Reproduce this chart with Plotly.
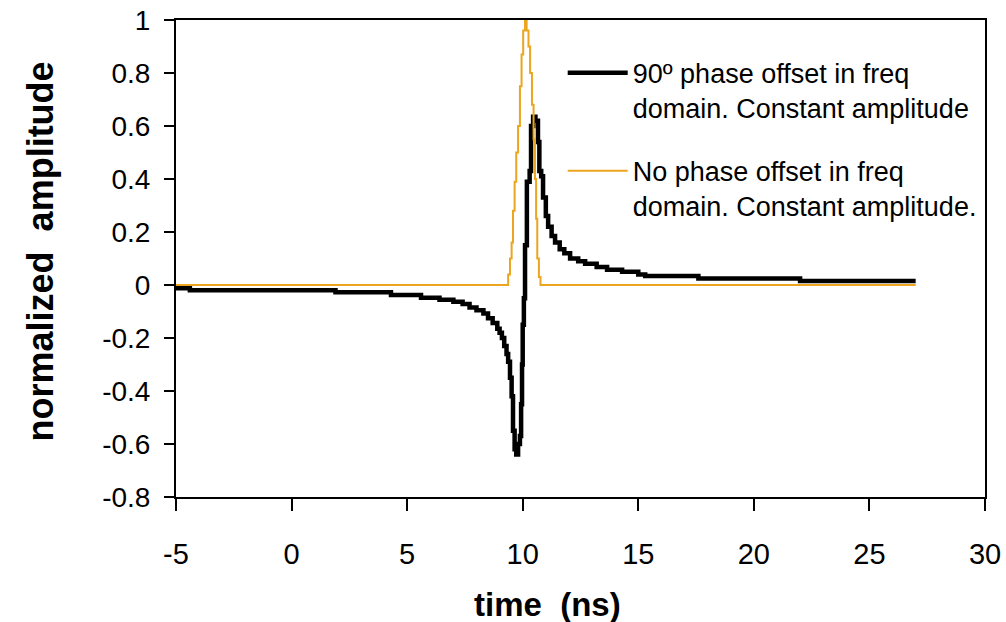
import plotly.graph_objects as go

# 90 deg phase offset series (step points)
t_phase90 = [-5.0, -4.4, 1.9, 4.3, 5.6, 6.4, 7.0, 7.4, 7.7, 8.0, 8.3, 8.5, 8.7, 8.9, 9.0,
             9.1, 9.2, 9.3, 9.37, 9.45, 9.52, 9.58, 9.65, 9.72, 9.8, 9.88, 9.93, 9.97,
             10.0, 10.05, 10.1, 10.18, 10.3, 10.36, 10.45, 10.55, 10.66, 10.72, 10.8,
             10.88, 11.0, 11.1, 11.25, 11.4, 11.6, 11.8, 12.05, 12.4, 12.7, 13.2, 13.65,
             14.3, 15.0, 15.3, 17.6, 22.0, 27.0]
a_phase90 = [-0.012, -0.02, -0.027, -0.038, -0.048, -0.056, -0.063, -0.072, -0.085, -0.095,
             -0.108, -0.125, -0.143, -0.165, -0.18, -0.2, -0.23, -0.26, -0.29, -0.35, -0.42,
             -0.55, -0.62, -0.64, -0.60, -0.57, -0.45, -0.3, -0.15, -0.05, 0.15, 0.39, 0.43,
             0.6, 0.635, 0.62, 0.54, 0.43, 0.41, 0.33, 0.26, 0.22, 0.185, 0.16, 0.135, 0.12,
             0.10, 0.09, 0.08, 0.068, 0.058, 0.05, 0.04, 0.034, 0.025, 0.015, 0.015]

# No phase offset series
t_nophase = [-5.0, 9.37, 9.45, 9.52, 9.58, 9.65, 9.72, 9.8, 9.88, 9.95, 10.02, 10.1,
             10.17, 10.25, 10.32, 10.4, 10.47, 10.53, 10.58, 10.63, 10.7, 10.77, 27.0]
a_nophase = [0.0, 0.04, 0.1, 0.16, 0.28, 0.39, 0.5, 0.6, 0.75, 0.87, 0.96, 1.0,
             0.96, 0.9, 0.8, 0.68, 0.55, 0.4, 0.25, 0.1, 0.03, 0.0, 0.0]

name_phase90 = "90º phase offset in freq<br>domain. Constant amplitude"
name_nophase = "No phase offset in freq<br>domain. Constant amplitude."

x_ticks = [-5, 0, 5, 10, 15, 20, 25, 30]
x_ticktext = ["-5", "0", "5", "10", "15", "20", "25", "30"]
y_ticks = [-0.8, -0.6, -0.4, -0.2, 0, 0.2, 0.4, 0.6, 0.8, 1]
y_ticktext = ["-0.8", "-0.6", "-0.4", "-0.2", "0", "0.2", "0.4", "0.6", "0.8", "1"]

x_title = "time\u00a0 (ns)"
y_title = "normalized\u00a0 amplitude"

FONT = "Liberation Sans, Arial, sans-serif"

fig = go.Figure()
fig.add_trace(go.Scatter(x=t_phase90, y=a_phase90, mode="lines", name=name_phase90,
                         legendgroup="a",
                         line=dict(color="#000000", width=4.5, shape="hv")))
fig.add_trace(go.Scatter(x=t_nophase, y=a_nophase, mode="lines", name=name_nophase,
                         legendgroup="b",
                         line=dict(color="#EBA51E", width=2, shape="hv")))

fig.update_layout(
    width=1006, height=622,
    margin=dict(l=176, r=21, t=20, b=125),
    paper_bgcolor="white", plot_bgcolor="white",
    font=dict(family=FONT, color="black", size=26),
    showlegend=True,
    legend=dict(x=0.478, y=0.94, xanchor="left", yanchor="top", valign="top",
                bgcolor="rgba(0,0,0,0)", font=dict(size=27, family=FONT),
                tracegroupgap=25, itemwidth=60),
    xaxis=dict(range=[-5, 30], tickvals=x_ticks, ticktext=x_ticktext, ticks="outside",
               ticklen=12, tickwidth=2, tickcolor="black", showline=True, linewidth=2,
               linecolor="black", mirror=True, showgrid=False, zeroline=False,
               automargin=False,
               tickfont=dict(size=29, family=FONT), ticklabelstandoff=18),
    yaxis=dict(range=[-0.8, 1], tickvals=y_ticks, ticktext=y_ticktext, ticks="outside",
               ticklen=10, tickwidth=2, tickcolor="black", showline=True, linewidth=2,
               linecolor="black", mirror=True, showgrid=False, zeroline=False,
               automargin=False,
               tickfont=dict(size=28, family=FONT), ticklabelstandoff=8),
    annotations=[
        dict(text="<b>" + x_title + "</b>", xref="paper", yref="paper",
             x=0.4586, y=-0.2264, xanchor="center", yanchor="middle", showarrow=False,
             font=dict(size=33, family=FONT, color="black")),
        dict(text="<b>" + y_title + "</b>", xref="paper", yref="paper",
             x=-0.168, y=0.515, xanchor="center", yanchor="middle", showarrow=False,
             textangle=-90, font=dict(size=36, family=FONT, color="black")),
    ],
)

fig.write_html("out.html")
